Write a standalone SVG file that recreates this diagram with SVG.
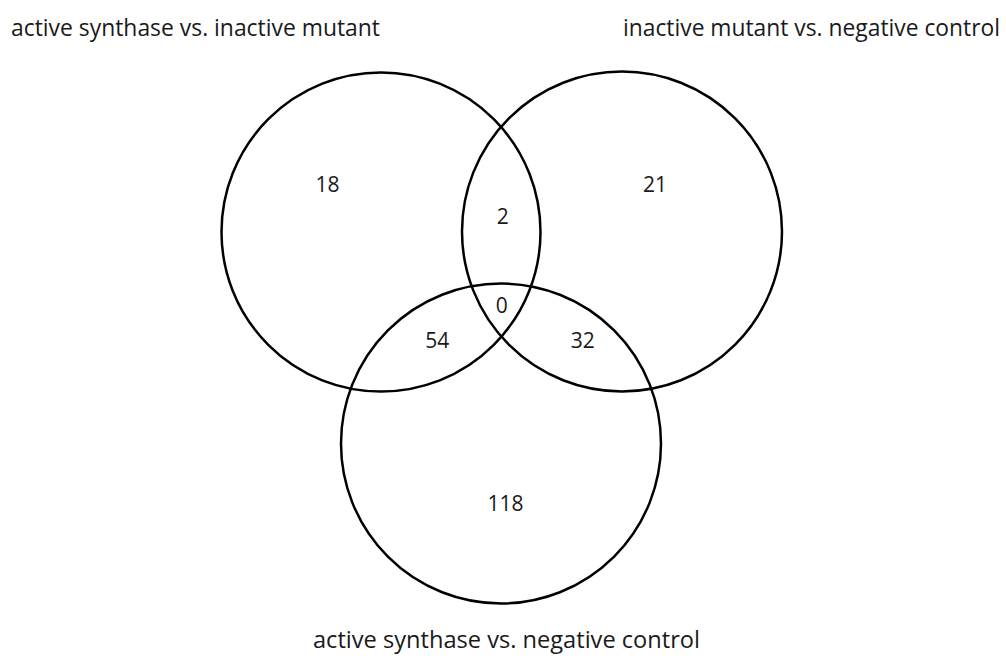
<svg xmlns="http://www.w3.org/2000/svg" width="1006" height="659" viewBox="0 0 1006 659">
<style>
.c{fill:none;stroke:#000;stroke-width:2.5}
.n{font-family:"Open Sans","Liberation Sans",sans-serif;font-size:21px;fill:#1a1a1a;text-anchor:middle}
.t{font-family:"Open Sans","Liberation Sans",sans-serif;font-size:23px;fill:#1a1a1a}
</style>
<rect width="1006" height="659" fill="#fff"/>
<g id="set-a">
<circle class="c" cx="381" cy="232" r="159.5"/>
<text class="t" x="11" y="36" textLength="369" lengthAdjust="spacingAndGlyphs">active synthase vs. inactive mutant</text>
</g>
<g id="set-b">
<circle class="c" cx="622" cy="231.5" r="160"/>
<text class="t" x="623" y="36" textLength="377" lengthAdjust="spacingAndGlyphs">inactive mutant vs. negative control</text>
</g>
<g id="set-c">
<circle class="c" cx="501" cy="443.5" r="160"/>
<text class="t" x="313" y="648" textLength="387" lengthAdjust="spacingAndGlyphs">active synthase vs. negative control</text>
</g>
<g id="counts">
<text class="n" x="327.5" y="192">18</text>
<text class="n" x="655" y="192">21</text>
<text class="n" x="502.7" y="224">2</text>
<text class="n" x="501.7" y="312.5">0</text>
<text class="n" x="437.3" y="347.5">54</text>
<text class="n" x="582.7" y="347.5">32</text>
<text class="n" x="505.5" y="511">118</text>
</g>
<g id="connectors"/>
</svg>
